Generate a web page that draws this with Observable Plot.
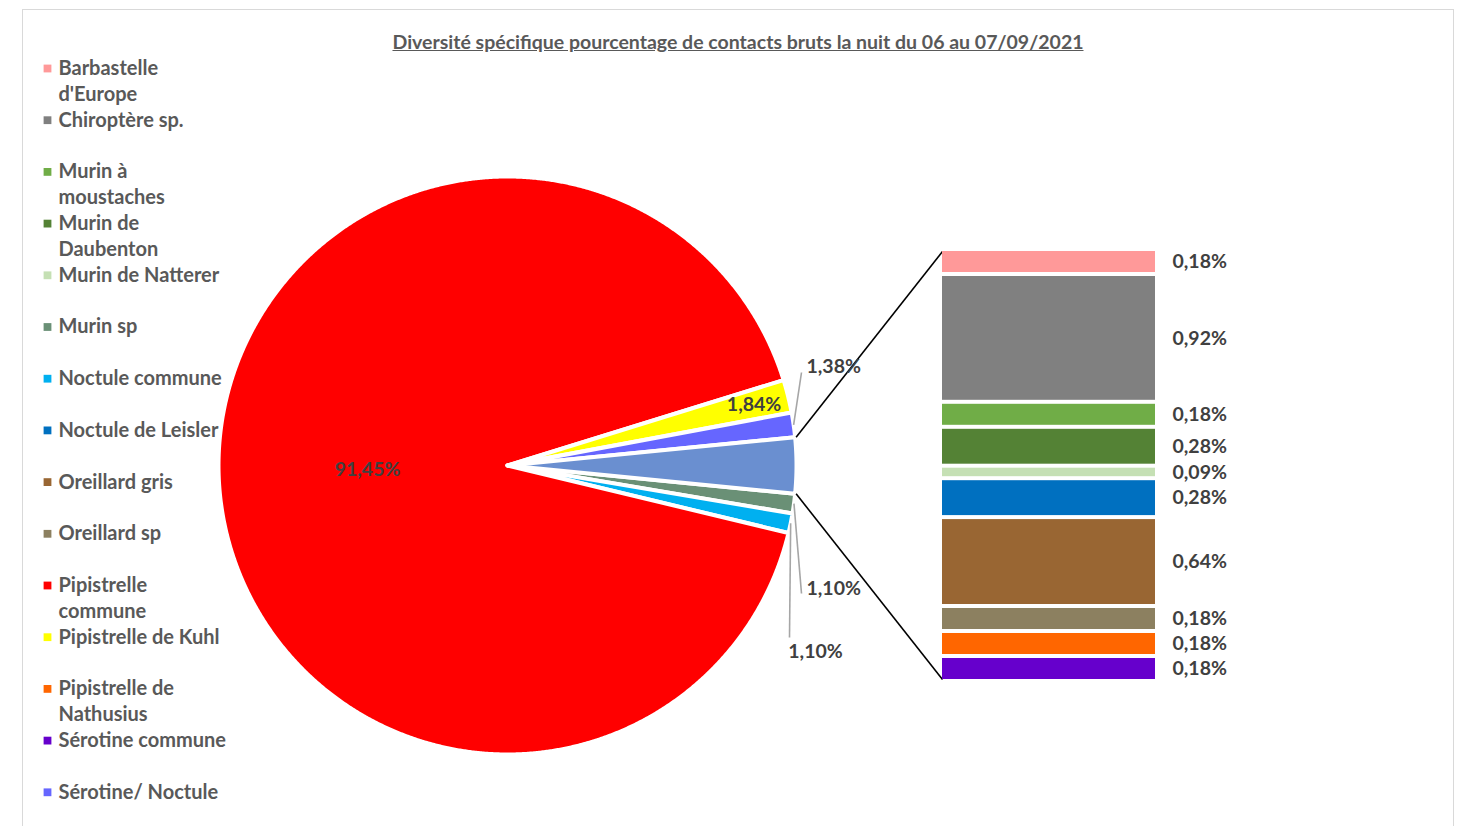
<!DOCTYPE html>
<html>
<head>
<meta charset="utf-8">
<script src="https://cdn.jsdelivr.net/npm/d3@7"></script>
<script src="https://cdn.jsdelivr.net/npm/@observablehq/plot@0.6"></script>
<style>
  html, body { margin: 0; padding: 0; background: #fff; }
  #chart { position: relative; width: 1468px; height: 826px; font-family: Lato, "Noto Sans", sans-serif; }
  #frame { position: absolute; left: 22px; top: 9px; width: 1432px; height: 817px; border: 1.5px solid #d9d9d9; border-bottom: none; box-sizing: border-box; }
  #title { position: absolute; top: 30px; left: 8px; width: 1460px; text-align: center; font-weight: bold; font-size: 19.5px; color: #595959; text-decoration: underline; }
  #chart svg { position: absolute; left: 0; top: 0; }
</style>
</head>
<body>
<div id="chart">
  <div id="frame"></div>
  <div id="title">Diversité spécifique pourcentage de contacts bruts la nuit du 06 au 07/09/2021</div>
</div>
<script>
// ---- data ----
const species = ["Barbastelle d'Europe", "Chiroptère sp.", "Murin à moustaches", "Murin de Daubenton",
  "Murin de Natterer", "Murin sp", "Noctule commune", "Noctule de Leisler", "Oreillard gris", "Oreillard sp",
  "Pipistrelle commune", "Pipistrelle de Kuhl", "Pipistrelle de Nathusius", "Sérotine commune", "Sérotine/ Noctule"];
const legendLabels = ["Barbastelle\nd'Europe", "Chiroptère sp.", "Murin à\nmoustaches", "Murin de\nDaubenton",
  "Murin de Natterer", "Murin sp", "Noctule commune", "Noctule de Leisler", "Oreillard gris", "Oreillard sp",
  "Pipistrelle\ncommune", "Pipistrelle de Kuhl", "Pipistrelle de\nNathusius", "Sérotine commune", "Sérotine/ Noctule"];
const speciesColors = ["#ff9999", "#808080", "#70ad47", "#548235", "#c5e0b4", "#6a9076", "#00b0f0", "#0070c0",
  "#996633", "#8c8060", "#ff0000", "#ffff00", "#ff6600", "#6600cc", "#6666ff"];

// species shown as pie slices (clockwise, starting just below 3 o'clock)
const pieSpecies = ["Murin sp", "Noctule commune", "Pipistrelle commune", "Pipistrelle de Kuhl", "Sérotine/ Noctule"];
const piePercent = [1.10, 1.10, 91.45, 1.84, 1.38];

// species grouped in the secondary bar (top to bottom)
const barSpecies = ["Barbastelle d'Europe", "Chiroptère sp.", "Murin à moustaches", "Murin de Daubenton",
  "Murin de Natterer", "Noctule de Leisler", "Oreillard gris", "Oreillard sp", "Pipistrelle de Nathusius", "Sérotine commune"];
const barPercent = [0.18, 0.92, 0.18, 0.28, 0.09, 0.28, 0.64, 0.18, 0.18, 0.18];
const otherColor = "#6a8fd0";

// ---- layout ----
const W = 1468, H = 826;
const CX = 507, CY = 465, R = 289;           // pie centre and radius (outer white border eats 2px)
const BAR = {left: 942, right: 1155, top: 249, bottom: 681};
const BAR_LABEL_X = 1172;
const LEGEND = {x: 47, textX: 58, y0: 67, step: 51.7};
const labelColor = "#404040";
const labelSize = 19.5;
const fmt = v => v.toFixed(2).replace(".", ",") + "%";
const colorOf = Object.fromEntries(species.map((s, i) => [s, speciesColors[i]]));

// ---- pie geometry ----
const otherTotal = d3.sum(barPercent);
const slices = pieSpecies.map((name, i) => ({name, value: piePercent[i], color: colorOf[name]}))
  .concat([{name: "Autres", value: otherTotal, color: otherColor}]);
const total = d3.sum(slices, d => d.value);
const otherSpan = otherTotal / total * 2 * Math.PI;
const start = Math.PI / 2 + otherSpan / 2;   // the grouped slice is centred on 3 o'clock
const arcs = d3.pie().sort(null).value(d => d.value).startAngle(start).endAngle(start + 2 * Math.PI)(slices);
const polar = (a, r) => [CX + r * Math.sin(a), CY - r * Math.cos(a)];

const piePoints = arcs.flatMap(arc => {
  const n = Math.max(2, Math.ceil((arc.endAngle - arc.startAngle) / (Math.PI / 720)));
  const pts = [polar(0, 0)];
  for (let k = 0; k <= n; k++) pts.push(polar(arc.startAngle + (arc.endAngle - arc.startAngle) * k / n, R));
  pts.push(polar(0, 0));
  return pts.map(([x, y]) => ({name: arc.data.name, color: arc.data.color, x, y}));
});

// label placement for pie slices: inside (radius) or outside with a leader line
const pieLabelLayout = {
  "Pipistrelle commune": {r: 140},
  "Pipistrelle de Kuhl": {r: 254},
  "Sérotine/ Noctule": {leader: [801, 372], text: [806, 366], anchor: "start"},
  "Murin sp": {leader: [801, 593], text: [806, 588], anchor: "start"},
  "Noctule commune": {leader: [789, 637], text: [815, 651], anchor: "middle"}
};
const pieLabels = arcs.filter(a => pieLabelLayout[a.data.name]).map(a => {
  const L = pieLabelLayout[a.data.name];
  const mid = (a.startAngle + a.endAngle) / 2;
  if (L.r) {
    const [x, y] = polar(mid, L.r);
    return {x, y, anchor: "middle", text: fmt(a.data.value)};
  }
  const [ex, ey] = polar(mid, R);
  return {x: L.text[0], y: L.text[1], anchor: L.anchor, text: fmt(a.data.value),
          x1: ex, y1: ey, x2: L.leader[0], y2: L.leader[1]};
});
const leaders = pieLabels.filter(d => d.x1 !== undefined);

// connectors from the grouped slice to the bar
const otherArc = arcs[arcs.length - 1];
const connectors = [
  {a: otherArc.startAngle, x2: BAR.left, y2: BAR.top + 2},
  {a: otherArc.endAngle, x2: BAR.left, y2: BAR.bottom - 2}
].map(c => { const [x1, y1] = polar(c.a, R + 1); return {x1, y1, x2: c.x2, y2: c.y2}; });

// legend rows
const legendData = species.map((s, i) => ({label: legendLabels[i], color: speciesColors[i], y: LEGEND.y0 + i * LEGEND.step}));

const baseStyle = {fontFamily: "Lato, 'Noto Sans', sans-serif", background: "transparent", overflow: "visible"};
const labelStyle = {fill: labelColor, fontWeight: "bold", fontSize: labelSize};

const piePlot = Plot.plot({
  width: W, height: H, margin: 0,
  x: {type: "identity", axis: null}, y: {type: "identity", axis: null},
  style: baseStyle,
  marks: [
    Plot.line(piePoints, {x: "x", y: "y", z: "name", fill: "color", stroke: "white", strokeWidth: 4, strokeLinejoin: "round"}),
    Plot.link(connectors, {x1: "x1", y1: "y1", x2: "x2", y2: "y2", stroke: "#000", strokeWidth: 1.6}),
    Plot.link(leaders, {x1: "x1", y1: "y1", x2: "x2", y2: "y2", stroke: "#a6a6a6", strokeWidth: 1.6}),
    Plot.text(pieLabels.filter(d => d.anchor === "middle"), {x: "x", y: "y", text: "text", textAnchor: "middle", ...labelStyle}),
    Plot.text(pieLabels.filter(d => d.anchor === "start"), {x: "x", y: "y", text: "text", textAnchor: "start", ...labelStyle}),
    Plot.dot(legendData, {x: LEGEND.x, y: d => d.y + 1, symbol: "square", r: 4.4, fill: "color", stroke: null}),
    Plot.text(legendData, {x: LEGEND.textX, y: d => d.y - 11, text: "label", textAnchor: "start", lineAnchor: "top",
      lineHeight: 1.3, fill: "#595959", fontWeight: "bold", fontSize: 20})
  ]
});

const barData = barSpecies.map((name, i) => ({name, value: barPercent[i], color: colorOf[name]}));
const barPlot = Plot.plot({
  width: W, height: H, margin: 0,
  x: {type: "identity", axis: null},
  y: {domain: [0, otherTotal], range: [BAR.top, BAR.bottom], axis: null},
  style: baseStyle,
  marks: [
    Plot.rectY(barData, {x1: BAR.left, x2: BAR.right, y: "value", fill: "color", insetTop: 2, insetBottom: 2}),
    Plot.text(barData, Plot.stackY({x: BAR_LABEL_X, y: "value", text: d => fmt(d.value), textAnchor: "start", ...labelStyle}))
  ]
});

const chart = document.getElementById("chart");
chart.appendChild(piePlot);
chart.appendChild(barPlot);
</script>
</body>
</html>
